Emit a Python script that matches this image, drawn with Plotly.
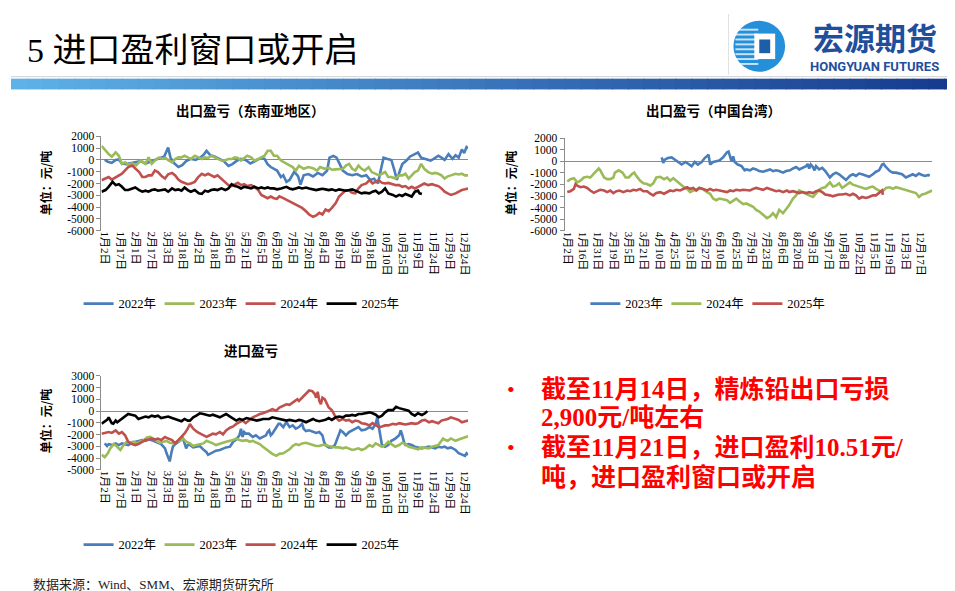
import plotly.graph_objects as go

W, H = 955, 591

# ---------------- data ----------------
# x positions are in "label slots": 0 = first tick label, 23 = last tick label
sea_ticks = ['1月2日', '1月17日', '2月1日', '2月17日', '3月3日', '3月18日', '4月2日', '4月18日',
             '5月6日', '5月21日', '6月5日', '6月20日', '7月5日', '7月20日', '8月4日', '8月19日',
             '9月3日', '9月18日', '10月10日', '10月25日', '11月9日', '11月24日', '12月9日', '12月24日']
tw_ticks = ['1月2日', '1月16日', '1月31日', '2月19日', '3月5日', '3月21日', '4月10日', '4月25日',
            '5月13日', '5月27日', '6月10日', '6月25日', '7月9日', '7月23日', '8月6日', '8月20日',
            '9月3日', '9月17日', '10月8日', '10月22日', '11月5日', '11月19日', '12月3日', '12月17日']
imp_ticks = sea_ticks

export_yticks = [2000, 1000, 0, -1000, -2000, -3000, -4000, -5000, -6000]
import_yticks = [3000, 2000, 1000, 0, -1000, -2000, -3000, -4000, -5000]

# 出口盈亏（东南亚地区）
sea_x_2022 = [0.0, 0.2, 0.45, 0.7, 0.9, 1.1, 1.4, 1.7, 2.0, 2.3, 2.6, 2.9, 3.2, 3.5, 3.8, 4.05, 4.2, 4.45,
              4.7, 4.95, 5.2, 5.5, 5.8, 6.1, 6.35, 6.5, 6.75, 7.0, 7.3, 7.6, 7.9, 8.15, 8.4, 8.7, 9.0, 9.3,
              9.6, 9.85, 10.0, 10.2, 10.4, 10.6, 10.8, 11.0, 11.25, 11.4, 11.6, 11.8, 12.1, 12.35, 12.5,
              12.7, 13.0, 13.3, 13.6, 13.9, 14.2, 14.35, 14.6, 14.8, 15.0, 15.2, 15.5, 15.8, 16.1, 16.4,
              16.7, 16.95, 17.2, 17.45, 17.6, 17.8, 18.0, 18.3, 18.5, 18.65, 18.85, 19.0, 19.3, 19.5,
              19.8, 20.0, 20.2, 20.5, 20.8, 21.0, 21.3, 21.5, 21.7, 21.95, 22.2, 22.4, 22.6, 22.8, 22.95,
              23.1, 23.2]
sea_y_2022 = [0, -150, -250, 0, 50, -300, -350, -250, -200, -100, -300, -150, 0, 200, 300, 1050, 200, -300,
              -600, -450, -100, 100, 0, 200, 500, 780, 400, 300, 100, -100, -500, -350, -100, 100, 0, -300,
              -100, 100, 200, 100, -350, -600, -750, -900, -1450, -1300, -1860, -1700, -1000, -1400, -2100,
              -1300, -1200, -1400, -1100, -1300, -900, 200, 350, 200, -330, -900, -1200, -1300, -1200, -1400,
              -1300, -1700, -1600, -2000, -1000, 200, 100, 0, -900, -1700, -900, -350, 0, 300,
              500, 640, 200, 100, -50, 100, 360, 200, 0, 500, 100, 400, 200, 900, 600,
              1100, 1000]
sea_x_2023 = [-0.2, 0.05, 0.25, 0.45, 0.6, 0.7, 0.9, 1.1, 1.3, 1.5, 1.75, 2.0, 2.3, 2.6, 2.8, 3.0, 3.2, 3.45,
              3.7, 3.9, 4.1, 4.3, 4.5, 4.7, 4.9, 5.1, 5.3, 5.5, 5.75, 5.95, 6.2, 6.4, 6.6, 6.8, 7.0, 7.2,
              7.45, 7.66, 7.9, 8.1, 8.3, 8.5, 8.7, 8.9, 9.1, 9.35, 9.55, 9.8, 10.0, 10.2, 10.4, 10.6, 10.8,
              11.0, 11.25, 11.45, 11.6, 11.8, 12.0, 12.2, 12.4, 12.7, 13.0, 13.3, 13.55, 13.75, 14.05, 14.3,
              14.5, 14.75, 15.0, 15.2, 15.4, 15.6, 15.8, 16.0, 16.2, 16.4, 16.6, 16.85, 17.05, 17.3, 17.5,
              17.7, 17.9, 18.1, 18.3, 18.55, 18.8, 19.0, 19.2, 19.4, 19.6, 19.8, 20.0, 20.2, 20.4, 20.65,
              20.9, 21.1, 21.3, 21.5, 21.7, 21.9, 22.1, 22.4, 22.6, 22.8, 23.0, 23.2]
sea_y_2023 = [1200, 780, 500, 280, 500, 640, 360, -330, -200, -400, -300, -470, -50, -330, 220, -330, -50, 200,
              100, 150, -50, -200, 80, 220, 220, 360, 220, 80, 360, 220, 80, 220, 170, 360, 220, 80,
              -50, -50, 80, 80, 220, 170, -50, 170, 360, 220, -50, 80, 220, 360, 780, 780, 360,
              360, -50, -200, -330, -470, -610, -900, -500, -750, -600, -700, -900, -600, -750, -650,
              -830, -800, -800, -750, -470, -330, -750, -900, -470, -750, -900, -610, -1030, -1170, -1310,
              -1170, -1030, -1450, -1450, -1580, -1310, -1310, -1170, -1580, -1310, -1030, -900, -330, -750, -1030,
              -1170, -1100, -1170, -1310, -1580, -1390, -1310, -1170, -1230, -1170, -1310, -1310]
sea_x_2024 = [-0.2, 0.05, 0.25, 0.45, 0.7, 0.9, 1.1, 1.3, 1.5, 1.75, 1.95, 2.2, 2.4, 2.6, 2.8, 3.0, 3.2, 3.4,
              3.65, 3.85, 4.05, 4.3, 4.5, 4.7, 4.9, 5.1, 5.3, 5.5, 5.75, 5.97, 6.2, 6.4, 6.6, 6.8, 7.0, 7.2,
              7.45, 7.7, 7.9, 8.1, 8.3, 8.5, 8.7, 8.9, 9.1, 9.35, 9.55, 9.8, 10.0, 10.2, 10.4, 10.6, 10.8,
              11.0, 11.15, 11.4, 11.6, 11.8, 12.0, 12.2, 12.4, 12.6, 12.85, 13.05, 13.3, 13.5, 13.7, 13.9,
              14.1, 14.3, 14.5, 14.75, 14.96, 15.2, 15.4, 15.6, 15.8, 16.0, 16.2, 16.4, 16.7, 16.9, 17.1,
              17.3, 17.5, 17.7, 17.9, 18.1, 18.4, 18.6, 18.8, 19.0, 19.2, 19.4, 19.6, 19.8, 20.0, 20.2, 20.4,
              20.65, 20.9, 21.1, 21.3, 21.5, 21.7, 21.9, 22.1, 22.4, 22.6, 22.8, 23.0, 23.2]
sea_y_2024 = [-1720, -1580, -1450, -1670, -1450, -1300, -1170, -890, -610, -470, -750, -1030, -1450, -1450, -1310,
              -1310, -890, -1030, -1390, -1580, -1220, -1100, -1310, -1670, -1860, -1940, -2060, -2000, -1860,
              -1450, -1170, -1310, -1170, -1310, -1450, -1310, -1580, -1860, -2140, -2220, -2060, -1940, -2140,
              -2060, -2220, -2140, -2280, -2560, -2970, -3110, -3250, -3110, -3250, -3300, -3100, -3250, -3390,
              -3530, -3670, -3810, -3890, -4080, -4360, -4640, -4830, -4720, -4500, -4640, -4220, -4360, -4080,
              -3670, -3110, -2840, -2560, -2610, -2780, -2840, -2420, -2140, -2000, -1720, -2000, -1860, -1720,
              -1950, -2000, -1950, -2060, -2140, -2140, -2280, -2220, -2420, -2280, -2420, -2280, -2140, -2000,
              -2140, -2060, -2140, -2220, -2420, -2700, -2840, -2970, -2840, -2700, -2560, -2500, -2420]
sea_x_2025 = [-0.2, 0.05, 0.25, 0.5, 0.7, 0.9, 1.1, 1.3, 1.5, 1.75, 1.95, 2.2, 2.4, 2.6, 2.8, 3.0, 3.2, 3.4,
              3.6, 3.85, 4.05, 4.3, 4.5, 4.7, 4.9, 5.1, 5.3, 5.5, 5.75, 6.0, 6.2, 6.4, 6.6, 6.8, 7.0, 7.2,
              7.45, 7.7, 7.9, 8.1, 8.3, 8.5, 8.7, 8.9, 9.1, 9.35, 9.55, 9.8, 10.0, 10.2, 10.4, 10.6, 10.8,
              11.0, 11.25, 11.4, 11.6, 11.8, 12.0, 12.2, 12.4, 12.6, 12.85, 13.05, 13.3, 13.5, 13.7, 13.9,
              14.1, 14.3, 14.5, 14.75, 14.96, 15.2, 15.4, 15.6, 15.8, 16.0, 16.2, 16.4, 16.6, 16.9, 17.1,
              17.3, 17.5, 17.7, 17.9, 18.1, 18.4, 18.6, 18.8, 19.0, 19.2, 19.4, 19.6, 19.8, 20.0, 20.1, 20.25]
sea_y_2025 = [-2700, -2560, -2280, -1860, -2140, -2060, -2280, -2560, -2560, -2420, -2340, -2560, -2700, -2610,
              -2700, -2560, -2500, -2610, -2560, -2500, -2700, -2420, -2560, -2500, -2610, -2340, -2560, -2700,
              -2560, -2840, -2890, -2610, -2700, -2560, -2500, -2560, -2420, -2560, -2420, -2060, -2220, -2280,
              -2420, -2280, -2340, -2420, -2280, -2420, -2340, -2420, -2340, -2420, -2420, -2500, -2420, -2340,
              -2280, -2420, -2500, -2420, -2340, -2420, -2340, -2420, -2500, -2560, -2500, -2450, -2500, -2560,
              -2500, -2610, -2500, -2560, -2610, -2560, -2500, -2610, -2700, -2840, -2780, -2840, -2700, -2610,
              -2840, -2700, -2420, -2840, -2970, -3110, -2970, -3060, -2890, -2970, -3110, -2700, -2610, -2840,
              -2900]

# 出口盈亏（中国台湾）
tw_x_2023 = [6.15, 6.25, 6.35, 6.55, 6.8, 7.0, 7.2, 7.45, 7.7, 7.9, 8.1, 8.3, 8.5, 8.75, 8.95, 9.2, 9.3, 9.5,
             9.7, 9.9, 10.15, 10.4, 10.5, 10.6, 10.7, 10.8, 10.9, 11.1, 11.35, 11.55, 11.66, 11.9, 12.1, 12.3,
             12.5, 12.75, 12.95, 13.2, 13.4, 13.6, 13.8, 14.05, 14.25, 14.5, 14.7, 14.9, 15.1, 15.3, 15.55,
             15.65, 15.75, 15.85, 16.0, 16.1, 16.2, 16.4, 16.6, 16.8, 17.1, 17.3, 17.5, 17.7, 17.95, 18.15,
             18.4, 18.6, 18.8, 19.0, 19.2, 19.45, 19.65, 19.9, 20.1, 20.3, 20.5, 20.6, 20.7, 21.0, 21.2, 21.4,
             21.6, 21.8, 22.05, 22.25, 22.5, 22.7, 22.9, 23.1, 23.3, 23.5, 23.6]
tw_y_2023 = [340, -140, 140, 280, 340, 140, -60, -280, -60, -220, -420, -60, -280, -60, 280, 560, -280, -60,
             0, 60, 340, 780, 840, 500, 0, 420, -60, -280, -420, -780, -700, -780, -620, -700,
             -840, -900, -780, -700, -840, -780, -840, -980, -840, -780, -620, -500, -700, -560, -420,
             -220, -620, -280, -500, -780, -420, -700, -560, -840, -1400, -1120, -980, -1120, -1400, -1620,
             -1260, -1120, -1260, -1060, -1120, -1260, -1340, -1120, -900, -780, -280, -220, -420, -840, -980, -980,
             -1060, -1120, -1400, -1260, -1120, -1260, -1060, -1180, -1260, -1180, -1260]
tw_x_2024 = [0.0, 0.2, 0.43, 0.65, 0.86, 1.08, 1.3, 1.5, 1.73, 1.95, 2.05, 2.15, 2.4, 2.6, 2.8, 3.0, 3.1, 3.35,
             3.6, 3.8, 4.0, 4.2, 4.36, 4.5, 4.75, 4.95, 5.2, 5.4, 5.6, 5.8, 6.05, 6.3, 6.5, 6.7, 6.9, 7.1,
             7.35, 7.6, 7.8, 8.0, 8.2, 8.4, 8.6, 8.8, 9.1, 9.3, 9.5, 9.7, 9.9, 10.15, 10.4, 10.6, 10.8, 11.0,
             11.25, 11.45, 11.66, 11.9, 12.1, 12.3, 12.5, 12.75, 13.0, 13.2, 13.4, 13.6, 13.8, 14.05, 14.3,
             14.45, 14.7, 14.9, 15.1, 15.3, 15.55, 15.75, 16.0, 16.2, 16.4, 16.6, 16.8, 17.1, 17.3, 17.5,
             17.7, 17.9, 18.15, 18.4, 18.6, 18.8, 19.0, 19.2, 19.45, 19.7, 19.9, 20.1, 20.3, 20.5, 20.75,
             21.0, 21.2, 21.4, 21.6, 21.8, 22.05, 22.3, 22.5, 22.7, 22.9, 23.1, 23.3, 23.55, 23.76]
tw_y_2024 = [-1740, -1540, -1460, -1820, -1680, -1400, -1340, -1400, -1060, -700, -620, -780, -1400, -1540,
             -1540, -1400, -980, -780, -980, -1400, -1400, -1120, -980, -1260, -1680, -1900, -1960, -2100,
             -1900, -1400, -1340, -1540, -1400, -1680, -1460, -1680, -1960, -2240, -2380, -2660, -2520, -2460,
             -2300, -2380, -2660, -2800, -3220, -3360, -3220, -3300, -3360, -3580, -3360, -3220, -3500, -3700,
             -3640, -3780, -3920, -4200, -4340, -4620, -4900, -4760, -4480, -4820, -4200, -4480, -4060, -3780,
             -3220, -2940, -2520, -2660, -2800, -2940, -3080, -2800, -2460, -2300, -2240, -1820, -2180, -2100,
             -1900, -2300, -2020, -1820, -2020, -2100, -2180, -2240, -2380, -2240, -2180, -2380, -2520, -2660,
             -2300, -2240, -2380, -2240, -2300, -2380, -2520, -2580, -2660, -2740, -3080, -2860, -2800, -2660,
             -2520]
tw_x_2025 = [0.0, 0.2, 0.43, 0.54, 0.65, 0.86, 1.08, 1.3, 1.5, 1.73, 1.95, 2.15, 2.4, 2.6, 2.8, 3.0, 3.2, 3.4,
             3.65, 3.9, 4.1, 4.3, 4.5, 4.75, 4.95, 5.2, 5.4, 5.6, 5.8, 6.05, 6.3, 6.5, 6.7, 6.9, 7.1, 7.35,
             7.6, 7.8, 8.0, 8.2, 8.4, 8.6, 8.85, 9.1, 9.3, 9.5, 9.7, 9.9, 10.15, 10.4, 10.6, 10.8, 11.0, 11.25,
             11.45, 11.66, 11.9, 12.1, 12.3, 12.5, 12.75, 13.0, 13.2, 13.4, 13.6, 13.8, 14.05, 14.3, 14.45,
             14.7, 14.9, 15.1, 15.3, 15.6, 15.75, 16.0, 16.2, 16.4, 16.6, 16.8, 17.1, 17.3, 17.5, 17.7, 17.9,
             18.15, 18.4, 18.6, 18.8, 19.0, 19.2, 19.45, 19.65, 19.9, 20.1, 20.3, 20.4, 20.5, 20.55]
tw_y_2025 = [-2660, -2580, -2380, -1960, -2100, -2240, -2180, -2300, -2520, -2720, -2580, -2460, -2520, -2660,
             -2520, -2740, -2580, -2520, -2660, -2520, -2580, -2460, -2520, -2380, -2580, -2580, -2800, -2940,
             -2740, -2660, -2800, -2660, -2520, -2580, -2460, -2520, -2380, -2240, -2380, -2300, -2520, -2300,
             -2380, -2520, -2380, -2520, -2460, -2520, -2580, -2660, -2520, -2580, -2460, -2520, -2460, -2460,
             -2520, -2380, -2300, -2380, -2460, -2300, -2380, -2520, -2580, -2520, -2660, -2520, -2660, -2580,
             -2660, -2740, -2660, -2740, -2660, -2740, -2580, -2520, -2660, -2860, -2940, -3020, -2940, -2860,
             -2860, -2800, -2940, -2800, -2940, -3220, -3080, -3160, -3080, -2940, -2940, -2740, -2660, -2520,
             -2900]

# 进口盈亏
imp_x_2022 = [0.0, 0.15, 0.25, 0.5, 0.7, 0.9, 1.1, 1.3, 1.5, 1.75, 1.95, 2.15, 2.4, 2.6, 2.8, 3.0, 3.2, 3.4,
              3.6, 3.85, 3.95, 4.05, 4.15, 4.25, 4.35, 4.5, 4.7, 4.9, 5.0, 5.1, 5.2, 5.3, 5.44, 5.65, 5.85,
              6.07, 6.3, 6.5, 6.6, 6.9, 7.1, 7.35, 7.55, 7.75, 8.0, 8.2, 8.4, 8.6, 8.7, 8.8, 8.9, 9.0, 9.2,
              9.45, 9.65, 9.9, 10.1, 10.3, 10.4, 10.5, 10.6, 10.7, 10.9, 11.1, 11.2, 11.4, 11.6, 11.8, 12.0,
              12.2, 12.4, 12.6, 12.7, 12.85, 13.05, 13.3, 13.5, 13.7, 13.9, 14.0, 14.1, 14.3, 14.5, 14.7,
              14.96, 15.05, 15.2, 15.4, 15.6, 15.8, 16.0, 16.2, 16.4, 16.65, 16.9, 17.1, 17.3, 17.4, 17.5,
              17.6, 17.7, 17.9, 18.1, 18.3, 18.55, 18.8, 18.9, 19.0, 19.1, 19.2, 19.4, 19.6, 19.8, 20.0,
              20.25, 20.45, 20.7, 20.9, 21.1, 21.3, 21.5, 21.7, 21.9, 22.1, 22.4, 22.6, 22.8, 23.0, 23.1, 23.2]
imp_y_2022 = [-2750, -2970, -2810, -2890, -2750, -2890, -2750, -2810, -2890, -2700, -2610, -2530, -2470, -2530,
              -2420, -2470, -2610, -2700, -2810, -3170, -3590, -4000, -4280, -3590, -3030, -2810, -2610, -2470,
              -2330, -2750, -3170, -2890, -2890, -3090, -3030, -2970, -3280, -3500, -3720, -3530, -3370, -3310,
              -3170, -3090, -3030, -2610, -2420, -2060, -1500, -2200, -1780, -1920, -1920, -2200, -2060, -2330,
              -2200, -2060, -1780, -1640, -2060, -1920, -1500, -1080, -1080, -1360, -940, -1360, -1220, -1500,
              -1360, -1080, -1500, -1700, -1640, -1780, -1860, -1780, -2060, -2610, -2890, -3090, -3090, -2890,
              -2060, -1640, -1780, -2060, -1780, -1640, -1500, -1360, -1640, -1580, -1360, -1500, -1080, -530,
              -1360, -2200, -2890, -3030, -2890, -2530, -2340, -2060, -1640, -2060, -2610, -2890, -2810, -2890,
              -3030, -3090, -3170, -3090, -3030, -3090, -3170, -3030, -3090, -3030, -3170, -3090, -3310, -3590,
              -3720, -3810, -3590, -3720]
imp_x_2023 = [-0.2, 0.0, 0.2, 0.35, 0.57, 0.75, 1.0, 1.2, 1.4, 1.6, 1.85, 2.05, 2.25, 2.5, 2.7, 2.9, 3.1, 3.3,
              3.5, 3.75, 3.95, 4.15, 4.4, 4.6, 4.8, 5.0, 5.2, 5.44, 5.65, 5.85, 6.07, 6.3, 6.5, 6.7, 6.9, 7.1,
              7.35, 7.55, 7.75, 8.0, 8.2, 8.4, 8.6, 8.8, 9.05, 9.25, 9.45, 9.7, 9.9, 10.1, 10.3, 10.5, 10.7,
              10.95, 11.15, 11.4, 11.6, 11.8, 12.0, 12.2, 12.4, 12.6, 12.85, 13.05, 13.3, 13.5, 13.7, 13.9,
              14.1, 14.3, 14.5, 14.75, 14.96, 15.2, 15.4, 15.6, 15.8, 16.0, 16.2, 16.4, 16.65, 16.9, 17.1,
              17.3, 17.5, 17.7, 17.9, 18.1, 18.3, 18.55, 18.8, 19.0, 19.2, 19.4, 19.6, 19.8, 20.0, 20.25,
              20.5, 20.7, 20.9, 21.1, 21.3, 21.5, 21.6, 21.75, 21.9, 22.1, 22.4, 22.6, 22.8, 23.0, 23.2]
imp_y_2023 = [-3720, -3920, -3590, -3170, -2810, -2970, -3310, -2890, -2610, -2700, -2610, -2750, -2610, -2470,
              -2250, -2190, -2340, -2530, -2700, -2610, -2530, -2700, -2750, -2610, -2530, -2340, -2610, -2750,
              -2970, -2890, -2810, -2750, -2530, -2610, -2750, -2890, -2810, -2700, -2610, -2530, -2470, -2330,
              -2470, -2530, -2470, -2610, -2530, -2700, -2810, -3030, -3250, -3440, -3640, -3810, -3640, -3590,
              -3440, -3250, -2970, -2810, -2890, -2750, -2700, -2810, -2890, -2970, -2970, -2890, -2890, -2970,
              -3030, -3090, -3090, -3170, -3090, -3170, -3310, -3250, -3170, -3310, -3170, -2890, -3030, -2750,
              -2890, -3030, -2890, -2610, -2810, -3030, -2890, -2700, -2810, -3030, -3090, -3170, -3250, -3090,
              -3170, -3170, -3030, -2970, -2890, -2530, -2330, -2470, -2530, -2330, -2530, -2420, -2330, -2190,
              -2140]
imp_x_2024 = [-0.2, 0.05, 0.25, 0.45, 0.7, 0.9, 1.1, 1.3, 1.5, 1.75, 1.95, 2.15, 2.4, 2.6, 2.8, 3.0, 3.2, 3.4,
              3.6, 3.85, 4.05, 4.3, 4.5, 4.7, 4.9, 5.1, 5.3, 5.44, 5.65, 5.9, 6.1, 6.3, 6.5, 6.7, 6.9, 7.1,
              7.35, 7.55, 7.75, 8.0, 8.2, 8.4, 8.6, 8.8, 9.0, 9.25, 9.45, 9.7, 9.9, 10.1, 10.3, 10.5, 10.7,
              10.95, 11.15, 11.4, 11.6, 11.8, 12.0, 12.2, 12.3, 12.4, 12.6, 12.85, 12.95, 13.05, 13.25, 13.4,
              13.5, 13.6, 13.7, 13.8, 13.9, 14.05, 14.15, 14.3, 14.5, 14.75, 14.96, 15.2, 15.4, 15.6, 15.8,
              16.0, 16.2, 16.4, 16.65, 16.9, 17.1, 17.3, 17.5, 17.7, 17.9, 18.1, 18.4, 18.6, 18.8, 19.0, 19.2,
              19.4, 19.6, 19.8, 20.0, 20.25, 20.45, 20.7, 20.9, 21.1, 21.3, 21.5, 21.7, 21.9, 22.1, 22.4,
              22.6, 22.8, 23.0, 23.2]
imp_y_2024 = [-1920, -1860, -1780, -1860, -1640, -1920, -1780, -2060, -2610, -2810, -2890, -2810, -2610, -2470,
              -2420, -2340, -2420, -2340, -2470, -2200, -2340, -2470, -2750, -2470, -2190, -1900, -1500, -1100,
              -1500, -1780, -1920, -2060, -2190, -2060, -1920, -1980, -1780, -1980, -1640, -1420, -1310, -1090,
              -950, -810, -1030, -750, -530, -390, -250, -190, -110, 30, 170, 30, 300, 440, 580, 530, 720, 860,
              1000, 860, 1140, 1420, 1640, 1750, 1700, 1470, 1140, 1640, 860, 580, 1140, 1000, 720, 300, 80,
              -530, -810, -670, -810, -750, -950, -810, -860, -1030, -1090, -1220, -1030, -1220, -1360, -1310,
              -1220, -1220, -1090, -1140, -1030, -1090, -1140, -1090, -1030, -1090, -1030, -810, -750, -950,
              -860, -950, -1030, -810, -750, -670, -530, -670, -750, -950, -860, -810]
imp_x_2025 = [-0.2, -0.05, 0.15, 0.25, 0.35, 0.45, 0.55, 0.7, 0.8, 0.9, 1.1, 1.3, 1.5, 1.7, 1.95, 2.15, 2.4,
              2.6, 2.8, 3.0, 3.2, 3.4, 3.6, 3.85, 4.05, 4.3, 4.5, 4.7, 4.9, 5.1, 5.3, 5.44, 5.65, 5.85, 6.07,
              6.3, 6.5, 6.7, 6.9, 7.1, 7.35, 7.55, 7.75, 8.0, 8.2, 8.4, 8.6, 8.8, 9.05, 9.25, 9.45, 9.7, 9.9,
              10.1, 10.3, 10.5, 10.7, 10.95, 11.15, 11.4, 11.6, 11.8, 12.0, 12.2, 12.4, 12.6, 12.85, 13.05,
              13.3, 13.5, 13.7, 13.9, 14.1, 14.3, 14.5, 14.75, 14.96, 15.2, 15.4, 15.6, 15.8, 16.0, 16.2, 16.4,
              16.65, 16.9, 17.1, 17.3, 17.5, 17.7, 17.9, 18.1, 18.4, 18.6, 18.8, 19.0, 19.2, 19.4, 19.6, 19.8,
              20.0, 20.25, 20.45, 20.6]
imp_y_2025 = [-1080, -940, -750, -530, -800, -1030, -1080, -810, -950, -860, -670, -470, -250, -310, -390, -670,
              -530, -470, -530, -390, -470, -390, -590, -530, -470, -590, -670, -810, -860, -670, -810, -810,
              -530, -390, -190, -250, -310, -390, -310, -390, -530, -390, -250, -470, -670, -810, -670, -750,
              -590, -670, -750, -810, -750, -670, -670, -670, -530, -590, -670, -750, -810, -750, -810, -860,
              -750, -810, -950, -810, -670, -810, -860, -810, -750, -590, -750, -530, -470, -530, -390, -390,
              -330, -390, -250, -250, -190, -110, -190, -310, -530, -390, -110, 80, 80, 360, 250, 170, 80, 30,
              -250, -390, -190, -330, -190, 0]

blue, green, red, black = '#4A7EBB', '#9BBB59', '#C0504D', '#000000'
serif = 'Liberation Serif, Noto Sans CJK SC'
cjk = 'Noto Sans CJK SC'


def px(x):
    return x / W


def py(y):
    return 1 - y / H


fig = go.Figure()


def add_line(x, y, name, color, xa, ya, leg):
    fig.add_trace(go.Scatter(x=x, y=y, name=name, mode='lines',
                             line=dict(color=color, width=2.6),
                             xaxis=xa, yaxis=ya, legend=leg, hoverinfo='skip'))


add_line(sea_x_2022, sea_y_2022, '2022年', blue, 'x', 'y', 'legend')
add_line(sea_x_2023, sea_y_2023, '2023年', green, 'x', 'y', 'legend')
add_line(sea_x_2024, sea_y_2024, '2024年', red, 'x', 'y', 'legend')
add_line(sea_x_2025, sea_y_2025, '2025年', black, 'x', 'y', 'legend')

add_line(tw_x_2023, tw_y_2023, '2023年', blue, 'x2', 'y2', 'legend2')
add_line(tw_x_2024, tw_y_2024, '2024年', green, 'x2', 'y2', 'legend2')
add_line(tw_x_2025, tw_y_2025, '2025年', red, 'x2', 'y2', 'legend2')

add_line(imp_x_2022, imp_y_2022, '2022年', blue, 'x3', 'y3', 'legend3')
add_line(imp_x_2023, imp_y_2023, '2023年', green, 'x3', 'y3', 'legend3')
add_line(imp_x_2024, imp_y_2024, '2024年', red, 'x3', 'y3', 'legend3')
add_line(imp_x_2025, imp_y_2025, '2025年', black, 'x3', 'y3', 'legend3')


def xaxis(dom, rng, labels, anchor):
    return dict(domain=[px(dom[0]), px(dom[1])], range=rng, anchor=anchor,
                tickmode='array', tickvals=list(range(len(labels))), ticktext=labels,
                tickangle=90, tickfont=dict(family=serif, size=11, color='black'),
                showline=False, showgrid=False, zeroline=False, ticks='', fixedrange=True)


def yaxis(dom, ticks, anchor):
    return dict(domain=[py(dom[1]), py(dom[0])], range=[ticks[-1], ticks[0]], anchor=anchor,
                tickmode='array', tickvals=ticks, ticktext=[str(v) for v in ticks],
                tickfont=dict(family=serif, size=11.5, color='black'),
                showline=True, linecolor='#8c8c8c', linewidth=1,
                ticks='outside', ticklen=4, tickcolor='#8c8c8c',
                showgrid=False, zeroline=True, zerolinecolor='#8c8c8c', zerolinewidth=1.2,
                fixedrange=True)


def legend(x, y):
    return dict(orientation='h', x=px(x), y=py(y), xanchor='left', yanchor='middle',
                font=dict(family=serif, size=12.5, color='black'), bgcolor='rgba(0,0,0,0)',
                itemwidth=30, entrywidth=36, entrywidthmode='pixels', traceorder='normal')


shapes = []
# header: gradient bar
n = 60
c0, c1 = (95, 178, 232), (22, 58, 142)
for i in range(n):
    t = i / (n - 1)
    col = 'rgb({},{},{})'.format(*[int(a + (b - a) * t) for a, b in zip(c0, c1)])
    shapes.append(dict(type='rect', xref='paper', yref='paper', x0=px(W * i / n), x1=px(W * (i + 1) / n + 1),
                       y0=py(77), y1=py(66), fillcolor=col, line=dict(width=0), layer='below'))
shapes.append(dict(type='line', xref='paper', yref='paper', x0=0, x1=1, y0=py(64), y1=py(64),
                   line=dict(color='#d0d0d0', width=1)))
shapes.append(dict(type='line', xref='paper', yref='paper', x0=px(722), x1=px(722), y0=py(0), y1=py(62),
                   line=dict(color='#e0e0e0', width=1)))
# logo
shapes.append(dict(type='circle', xref='paper', yref='paper', x0=px(727), x1=px(779), y0=py(59), y1=py(7),
                   fillcolor='#2590DA', line=dict(width=0)))
for yy in [15, 20, 25, 30, 35, 40, 45, 50]:
    shapes.append(dict(type='rect', xref='paper', yref='paper', x0=px(729), x1=px(752), y0=py(yy + 2), y1=py(yy),
                       fillcolor='rgba(255,255,255,0.75)', line=dict(width=0)))
shapes.append(dict(type='rect', xref='paper', yref='paper', x0=px(748), x1=px(769), y0=py(46), y1=py(20),
                   fillcolor='white', line=dict(width=0)))
shapes.append(dict(type='rect', xref='paper', yref='paper', x0=px(753), x1=px(764), y0=py(40), y1=py(26),
                   fillcolor='#1B5FA8', line=dict(width=0)))

annotations = [
    dict(text='5 进口盈利窗口或开启', x=px(14), y=py(37), xanchor='left', yanchor='middle',
         font=dict(family=serif, size=34, color='black')),
    dict(text='<b>宏源期货</b>', x=px(869), y=py(23), xanchor='center', yanchor='middle',
         font=dict(family=cjk, size=31, color='#1F4E9C')),
    dict(text='<b>HONGYUAN FUTURES</b>', x=px(869), y=py(54), xanchor='center', yanchor='middle',
         font=dict(family='Roboto', size=13, color='#1F4E9C')),
    # chart titles
    dict(text='<b>出口盈亏（东南亚地区）</b>', x=px(241), y=py(98), xanchor='center', yanchor='middle',
         font=dict(family=cjk, size=13.5, color='black')),
    dict(text='<b>出口盈亏（中国台湾）</b>', x=px(707), y=py(98), xanchor='center', yanchor='middle',
         font=dict(family=cjk, size=13.5, color='black')),
    dict(text='<b>进口盈亏</b>', x=px(242), y=py(343), xanchor='center', yanchor='middle',
         font=dict(family=cjk, size=13.5, color='black')),
    # y titles
    dict(text='<b>单位：元/吨</b>', x=px(35), y=py(172), textangle=-90, xanchor='center', yanchor='middle',
         font=dict(family=cjk, size=12, color='black')),
    dict(text='<b>单位：元/吨</b>', x=px(503), y=py(172), textangle=-90, xanchor='center', yanchor='middle',
         font=dict(family=cjk, size=12, color='black')),
    dict(text='<b>单位：元/吨</b>', x=px(35), y=py(415), textangle=-90, xanchor='center', yanchor='middle',
         font=dict(family=cjk, size=12, color='black')),
    # source
    dict(text='数据来源：Wind、SMM、宏源期货研究所', x=px(20), y=py(582), xanchor='left', yanchor='middle',
         font=dict(family=serif, size=13, color='#222222')),
]

bullet_lines = [
    (383, True, '截至11月14日，精炼铅出口亏损'),
    (412, False, '2,900元/吨左右'),
    (442, True, '截至11月21日，进口盈利10.51元/'),
    (473, False, '吨，进口盈利窗口或开启'),
]
for yy, has_bullet, txt in bullet_lines:
    if has_bullet:
        annotations.append(dict(text='•', x=px(497), y=py(yy), xanchor='left', yanchor='middle',
                                font=dict(family=serif, size=22, color='#FF0000')))
    annotations.append(dict(text='<b>' + txt + '</b>', x=px(531), y=py(yy), xanchor='left', yanchor='middle',
                            font=dict(family=serif, size=25, color='#FF0000')))

for a in annotations:
    a.update(xref='paper', yref='paper', showarrow=False)

fig.update_layout(
    width=W, height=H,
    margin=dict(l=0, r=0, t=0, b=0),
    paper_bgcolor='white', plot_bgcolor='white',
    xaxis=xaxis((91, 460), [-0.21, 23.2], sea_ticks, 'y'),
    yaxis=yaxis((125, 221), export_yticks, 'x'),
    xaxis2=xaxis((557, 927), [-0.18, 23.76], tw_ticks, 'y2'),
    yaxis2=yaxis((126.7, 221.3), export_yticks, 'x2'),
    xaxis3=xaxis((91, 460), [-0.21, 23.2], imp_ticks, 'y3'),
    yaxis3=yaxis((369.3, 465.3), import_yticks, 'x3'),
    legend=legend(68, 296),
    legend2=legend(578, 296),
    legend3=legend(68, 542),
    shapes=shapes,
    annotations=annotations,
    showlegend=True,
)

fig.write_html('out.html')
